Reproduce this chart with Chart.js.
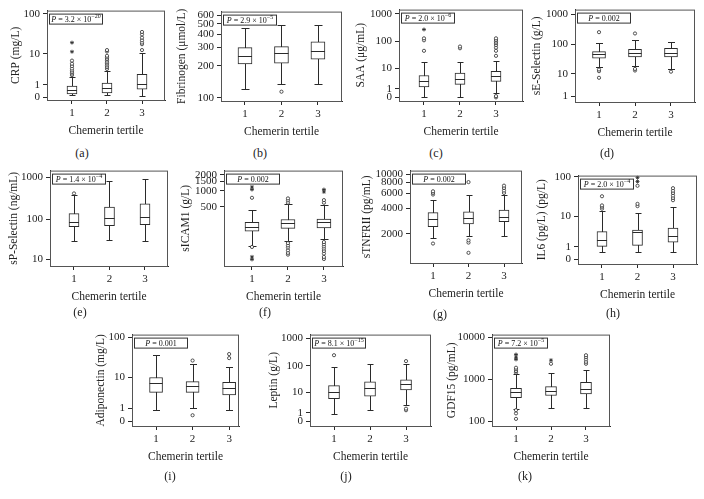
<!DOCTYPE html>
<html>
<head>
<meta charset="utf-8">
<script src="https://cdn.jsdelivr.net/npm/chart.js@4.4.1/dist/chart.umd.min.js"></script>
<style>
  body { margin: 0; background: #fff; }
  #fig { position: relative; width: 704px; height: 499px; overflow: hidden; }
  #fig canvas { position: absolute; }
  .lab { position: absolute; width: 30px; margin-left: -15px; text-align: center;
         font: 12px "Liberation Serif", serif; color: #222; line-height: 14px; margin-top: -7px; }
</style>
</head>
<body>
<div id="fig"></div>
<script>
const tertiles = [1, 2, 3];

// each box: [low whisker, q1, median, q3, high whisker], one per tertile
const crpBoxes = [[0.13, 0.2, 0.49, 0.85, 2.1], [0.13, 0.28, 0.68, 1.21, 3.4], [0.09, 0.57, 1.14, 2.55, 10.3]];
const crpOutliers = [[2.4, 2.7, 3.0, 3.4, 3.9, 4.6, 5.4, 6.6], [3.8, 4.3, 4.8, 5.4, 5.9, 6.6, 7.3, 8.1, 8.9, 11.6, 12.6], [12.6, 17.8, 19.5, 22.3, 26, 31.3, 36]];
const crpExtremes = [[11.4, 19.5], [], []];
const crpTicks = [0, 1, 10, 100];

const fibBoxes = [[120, 209, 249, 298, 457], [136, 213, 264, 305, 485], [134, 232, 278, 339, 485]];
const fibOutliers = [[], [114], []];
const fibExtremes = [[], [], []];
const fibTicks = [100, 200, 300, 400, 500, 600];

const saaBoxes = [[0, 1.37, 2.77, 5.1, 17.1], [0.05, 1.95, 3.69, 6.4, 18.2], [0.38, 2.77, 4.66, 7.7, 19.8]];
const saaOutliers = [[46, 111, 131], [57, 66], [0, 0.11, 30, 46, 60, 74, 87, 99, 114, 131]];
const saaExtremes = [[273], [], []];
const saaTicks = [0, 1, 10, 100, 1000];

const seBoxes = [[17, 35.4, 48, 58, 115], [19.6, 39, 54, 70, 138], [15, 39, 54, 75.5, 124]];
const seOutliers = [[7.2, 12.5, 14.3, 256], [13.2, 15, 232], [12]];
const seExtremes = [[], [], []];
const seTicks = [1, 10, 100, 1000];

const spBoxes = [[30, 65, 87, 135, 380], [31, 69, 105, 194, 823], [28.5, 73, 113, 232, 917]];
const spOutliers = [[410], [], []];
const spExtremes = [[], [], []];
const spTicks = [10, 100, 1000];

const icamBoxes = [[90, 174, 213, 256, 439], [114, 198, 245, 290, 559], [126, 201, 256, 295, 542]];
const icamOutliers = [[88, 740], [63, 68, 76, 86, 94, 104, 598, 662, 721], [52, 57, 66, 74, 82, 90, 99, 109, 598, 670]];
const icamExtremes = [[51, 57, 1056, 1180], [], [954, 1056]];
const icamTicks = [500, 1000, 1500, 2000];

const tnfBoxes = [[1800, 2427, 2980, 3550, 4935], [1862, 2607, 3060, 3615, 5780], [1862, 2773, 3163, 3785, 5675]];
const tnfOutliers = [[1535, 5780, 6040, 6310], [1194, 1575, 1675, 8090], [6040, 6440, 6900, 7350]];
const tnfExtremes = [[], [], []];
const tnfTicks = [2000, 4000, 6000, 8000, 10000];

const il6Boxes = [[0.5, 1.04, 1.84, 3.66, 13.8], [0.5, 1.16, 3.5, 4.1, 12.5], [0.5, 1.59, 2.54, 4.7, 17.7]];
const il6Outliers = [[15.8, 17.7, 19.2, 32.7], [18.4, 21, 59.6], [26, 29.7, 34, 39.4, 45, 52]];
const il6Extremes = [[55], [76, 95], []];
const il6Ticks = [0, 1, 10, 100];

const adipoBoxes = [[0.81, 3.87, 7.1, 10, 37.8], [1.05, 3.87, 6.0, 7.8, 21.6], [0.88, 3.24, 5.05, 7.4, 18.9]];
const adipoOutliers = [[], [0.38, 27], [31, 39]];
const adipoExtremes = [[], [], []];
const adipoTicks = [0, 1, 10, 100];

const leptinBoxes = [[0.77, 5.4, 10.7, 18.1, 92], [1.46, 6.9, 14.3, 25.5, 118], [2.9, 12.4, 20.9, 30, 112]];
const leptinOutliers = [[241], [], [1.46, 1.8, 147]];
const leptinExtremes = [[], [], []];
const leptinTicks = [0, 1, 10, 100, 1000];

const gdfBoxes = [[200, 364, 492, 612, 1330], [212, 412, 540, 670, 1452], [212, 452, 592, 845, 1653]];
const gdfOutliers = [[113, 153, 183, 1452, 1580, 1745, 1900], [2360], [2360, 2630, 3000, 3390, 3780]];
const gdfExtremes = [[3000, 3390, 3930], [2880], []];
const gdfTicks = [100, 1000, 10000];

// P values: [mantissa, exponent] or [plain]
const crpP = ['3.2', '\u221220'];
const fibP = ['2.9', '\u22125'];
const saaP = ['2.0', '\u22126'];
const seP = ['0.002'];
const spP = ['1.4', '\u22124'];
const icamP = ['0.002'];
const tnfP = ['0.002'];
const il6P = ['2.0', '\u22124'];
const adipoP = ['0.001'];
const leptinP = ['8.1', '\u221215'];
const gdfP = ['7.2', '\u22125'];

// axes are log10(value + 1)
const tx = v => Math.log10(v + 1);

const panels = [
  { tag: '(a)', title: 'CRP (mg/L)', boxes: crpBoxes, outl: crpOutliers, ext: crpExtremes, ticks: crpTicks, p: crpP,
    L: 47, T: 9, R: 165, B: 100, yr: [-0.064, 2.08], xr: [0.286, 3.657], off: 31, bw: 10, lab: [82, 153] },
  { tag: '(b)', title: 'Fibrinogen (\u03bcmol/L)', boxes: fibBoxes, outl: fibOutliers, ext: fibExtremes, ticks: fibTicks, p: fibP,
    L: 221, T: 10, R: 342, B: 101, yr: [1.973, 2.816], xr: [0.342, 3.66], off: 39, bw: 14, lab: [260, 153] },
  { tag: '(c)', title: 'SAA (\u03bcg/mL)', boxes: saaBoxes, outl: saaOutliers, ext: saaExtremes, ticks: saaTicks, p: saaP,
    L: 399, T: 8, R: 523, B: 101, yr: [-0.13, 3.152], xr: [0.306, 3.75], off: 38, bw: 10, lab: [436, 153] },
  { tag: '(d)', title: 'sE-Selectin (g/L)', boxes: seBoxes, outl: seOutliers, ext: seExtremes, ticks: seTicks, p: seP,
    L: 575, T: 8, R: 695, B: 102, yr: [0.12, 3.15], xr: [0.333, 3.667], off: 38, bw: 13, lab: [607, 153] },
  { tag: '(e)', title: 'sP-Selectin (ng/mL)', boxes: spBoxes, outl: spOutliers, ext: spExtremes, ticks: spTicks, p: spP,
    L: 50, T: 169, R: 168, B: 266, yr: [0.885, 3.157], xr: [0.324, 3.648], off: 36, bw: 10, lab: [80, 312] },
  { tag: '(f)', title: 'sICAM1 (g/L)', boxes: icamBoxes, outl: icamOutliers, ext: icamExtremes, ticks: icamTicks, p: icamP,
    L: 224, T: 169, R: 343, B: 266, yr: [1.593, 3.379], xr: [0.222, 3.53], off: 38, bw: 14, lab: [265, 312] },
  { tag: '(g)', title: 'sTNFRII (pg/mL)', boxes: tnfBoxes, outl: tnfOutliers, ext: tnfExtremes, ticks: tnfTicks, p: tnfP,
    L: 410, T: 169, R: 522, B: 263, yr: [2.958, 4.043], xr: [0.352, 3.507], off: 43, bw: 10, lab: [440, 314] },
  { tag: '(h)', title: 'IL6 (pg/L) (pg/L)', boxes: il6Boxes, outl: il6Outliers, ext: il6Extremes, ticks: il6Ticks, p: il6P,
    L: 578, T: 174, R: 697, B: 264, yr: [-0.12, 2.03], xr: [0.324, 3.676], off: 36, bw: 10, lab: [613, 313] },
  { tag: '(i)', title: 'Adiponectin (mg/L)', boxes: adipoBoxes, outl: adipoOutliers, ext: adipoExtremes, ticks: adipoTicks, p: adipoP,
    L: 132, T: 333, R: 239, B: 426, yr: [-0.117, 2.067], xr: [0.342, 3.27], off: 31, bw: 13, lab: [170, 476] },
  { tag: '(j)', title: 'Leptin (g/L)', boxes: leptinBoxes, outl: leptinOutliers, ext: leptinExtremes, ticks: leptinTicks, p: leptinP,
    L: 310, T: 333, R: 431, B: 426, yr: [-0.18, 3.13], xr: [0.333, 3.694], off: 36, bw: 11, lab: [346, 476] },
  { tag: '(k)', title: 'GDF15 (pg/mL)', boxes: gdfBoxes, outl: gdfOutliers, ext: gdfExtremes, ticks: gdfTicks, p: gdfP,
    L: 492, T: 333, R: 610, B: 426, yr: [1.887, 4.07], xr: [0.314, 3.686], off: 40, bw: 11, lab: [525, 476] }
];

Chart.defaults.font.family = '"Liberation Serif", "Times New Roman", serif';
Chart.defaults.font.size = 11;
Chart.defaults.color = '#222';

const INK = '#2a2a2a';
const PAD_TOP = 8, X_AXIS_H = 42, PAD_RIGHT = 6;

// whiskers + caps behind the box, median line on top of it
const boxPlugin = {
  id: 'boxParts',
  beforeDatasetsDraw(chart, args, opts) {
    const { ctx, scales: { x, y } } = chart;
    ctx.save();
    ctx.strokeStyle = INK;
    ctx.lineWidth = 1;
    opts.boxes.forEach((b, i) => {
      const px = Math.round(x.getPixelForValue(tertiles[i])) + 0.5;
      const lo = Math.round(y.getPixelForValue(tx(b[0]))) + 0.5;
      const hi = Math.round(y.getPixelForValue(tx(b[4]))) + 0.5;
      const c = opts.cap / 2;
      ctx.beginPath();
      ctx.moveTo(px, lo); ctx.lineTo(px, hi);
      ctx.moveTo(px - c, lo); ctx.lineTo(px + c, lo);
      ctx.moveTo(px - c, hi); ctx.lineTo(px + c, hi);
      ctx.stroke();
    });
    ctx.restore();
  },
  afterDatasetDraw(chart, args, opts) {
    if (args.index !== 0) return;
    const { ctx, scales: { x, y } } = chart;
    ctx.save();
    ctx.strokeStyle = INK;
    ctx.lineWidth = 1;
    opts.boxes.forEach((b, i) => {
      const px = x.getPixelForValue(tertiles[i]);
      const m = Math.round(y.getPixelForValue(tx(b[2]))) + 0.5;
      ctx.beginPath();
      ctx.moveTo(px - opts.bw / 2, m); ctx.lineTo(px + opts.bw / 2, m);
      ctx.stroke();
    });
    ctx.restore();
  }
};

// plot frame and P value label
const framePlugin = {
  id: 'frameP',
  afterDraw(chart, args, opts) {
    const { ctx, chartArea: a } = chart;
    ctx.save();
    ctx.strokeStyle = '#555';
    ctx.lineWidth = 1;
    ctx.strokeRect(a.left + 0.5, a.top + 0.5, a.right - a.left - 1, a.bottom - a.top);

    const bx = a.left + 2.5, by = a.top + 3.5, bw = 53, bh = 10;
    ctx.fillStyle = '#fff';
    ctx.fillRect(bx, by, bw, bh);
    ctx.strokeStyle = '#333';
    ctx.strokeRect(bx, by, bw, bh);

    const p = opts.p;
    const fam = '"Liberation Serif", serif';
    const main = p.length > 1 ? ' = ' + p[0] + ' \u00d7 10' : ' = ' + p[0];
    ctx.font = 'italic 8px ' + fam;
    const wP = ctx.measureText('P').width;
    ctx.font = '8px ' + fam;
    const wM = ctx.measureText(main).width;
    ctx.font = '6px ' + fam;
    const wE = p.length > 1 ? ctx.measureText(p[1]).width : 0;
    let cx = bx + (bw - wP - wM - wE) / 2;
    const base = by + bh - 2.2;
    ctx.fillStyle = '#111';
    ctx.textBaseline = 'alphabetic';
    ctx.font = 'italic 8px ' + fam;
    ctx.fillText('P', cx, base); cx += wP;
    ctx.font = '8px ' + fam;
    ctx.fillText(main, cx, base); cx += wM;
    if (p.length > 1) {
      ctx.font = '6px ' + fam;
      ctx.fillText(p[1], cx, base - 3.5);
    }
    ctx.restore();
  }
};

const fig = document.getElementById('fig');

panels.forEach(p => {
  const yw = p.off + 11;
  const cv = document.createElement('canvas');
  const w = yw + (p.R - p.L) + PAD_RIGHT;
  const h = PAD_TOP + (p.B - p.T) + X_AXIS_H;
  cv.width = w; cv.height = h;
  cv.style.left = (p.L - yw) + 'px';
  cv.style.top = (p.T - PAD_TOP) + 'px';
  cv.style.width = w + 'px';
  cv.style.height = h + 'px';
  fig.appendChild(cv);

  const lab = document.createElement('div');
  lab.className = 'lab';
  lab.style.left = p.lab[0] + 'px';
  lab.style.top = p.lab[1] + 'px';
  lab.textContent = p.tag;
  fig.appendChild(lab);

  const pts = list => list.flatMap((vals, i) => vals.map(v => ({ x: tertiles[i], y: tx(v) })));

  new Chart(cv, {
    type: 'bar',
    data: {
      datasets: [
        {
          data: p.boxes.map((b, i) => ({ x: tertiles[i], y: [tx(b[1]), tx(b[3])] })),
          backgroundColor: '#fff',
          borderColor: INK,
          borderWidth: 1,
          borderSkipped: false,
          barThickness: p.bw
        },
        {
          type: 'line',
          data: pts(p.outl),
          showLine: false,
          pointStyle: 'circle',
          pointRadius: 1.6,
          pointBorderWidth: 0.8,
          pointBorderColor: INK,
          pointBackgroundColor: '#fff'
        },
        {
          type: 'line',
          data: pts(p.ext),
          showLine: false,
          pointStyle: 'star',
          pointRadius: 2,
          pointBorderWidth: 0.8,
          pointBorderColor: INK
        }
      ]
    },
    options: {
      responsive: false,
      animation: false,
      events: [],
      layout: { padding: { top: PAD_TOP, right: PAD_RIGHT, left: 0, bottom: 0 } },
      plugins: {
        legend: { display: false },
        tooltip: { enabled: false },
        boxParts: { boxes: p.boxes, bw: p.bw, cap: Math.round(p.bw * 0.55) },
        frameP: { p: p.p }
      },
      scales: {
        x: {
          type: 'linear',
          offset: false,
          min: p.xr[0],
          max: p.xr[1],
          afterBuildTicks: s => { s.ticks = tertiles.map(v => ({ value: v })); },
          afterFit: s => { s.height = X_AXIS_H; },
          ticks: { callback: v => String(v), padding: 3, color: '#222', font: { size: 11 } },
          grid: { offset: false, drawOnChartArea: false, tickLength: 4, color: INK },
          border: { color: INK },
          title: { display: true, text: 'Chemerin tertile', color: '#222', font: { size: 11.5 }, padding: { top: 2, bottom: 4 } }
        },
        y: {
          type: 'linear',
          min: p.yr[0],
          max: p.yr[1],
          afterBuildTicks: s => { s.ticks = p.ticks.map(v => ({ value: tx(v) })); },
          afterFit: s => { s.width = yw; },
          ticks: { autoSkip: false, callback: (v, i) => String(p.ticks[i]), padding: 3, color: '#222', font: { size: 11 } },
          grid: { drawOnChartArea: false, tickLength: 4, color: INK },
          border: { color: INK },
          title: { display: true, text: p.title, color: '#222', font: { size: 11.5 }, padding: { top: 4, bottom: 0 } }
        }
      }
    },
    plugins: [boxPlugin, framePlugin]
  });
});
</script>
</body>
</html>
